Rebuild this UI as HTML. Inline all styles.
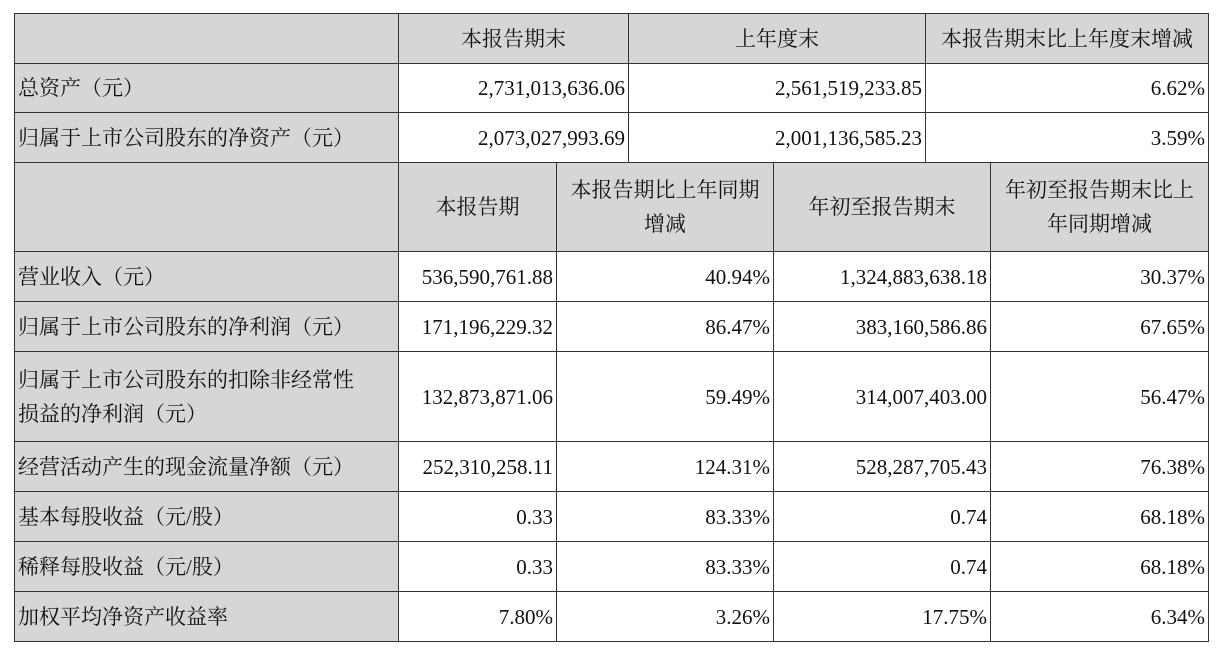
<!DOCTYPE html>
<html><head><meta charset="utf-8"><style>
html,body{margin:0;padding:0;background:#fff;width:1217px;height:652px;overflow:hidden}
.c{position:absolute;box-sizing:border-box;border:1.5px solid #333;font-family:"Liberation Serif","Noto Serif CJK SC",serif;font-size:21px;color:#111;display:flex;align-items:center;padding:0 3px;line-height:34px}
.g{background:#d6d6d6}
.r{justify-content:flex-end}
.m{justify-content:center;text-align:center}
.l{justify-content:flex-start}
</style></head><body>
<div id="t"></div>
<script>
var H=[[13,63],[63,112],[112,162]];
var top3=[398,628,925,1208];
var rows=[
["","本报告期末","上年度末","本报告期末比上年度末增减",1],
["总资产（元）","2,731,013,636.06","2,561,519,233.85","6.62%",0],
["归属于上市公司股东的净资产（元）","2,073,027,993.69","2,001,136,585.23","3.59%",0]];
var out="";
function cell(x1,y1,x2,y2,txt,cls){out+='<div class="c '+cls+'" style="left:'+x1+'px;top:'+y1+'px;width:'+(x2-x1+1)+'px;height:'+(y2-y1+1)+'px">'+txt+'</div>';}
for(var i=0;i<3;i++){var r=rows[i],h=H[i];var hd=r[4];
cell(14,h[0],398,h[1],r[0],'g l');
for(var j=0;j<3;j++)cell(top3[j],h[0],top3[j+1],h[1],r[j+1],hd?'g m':'r');}
var X=[14,398,556,773,990,1208];
var H2=[[162,251],[251,301],[301,351],[351,441],[441,491],[491,541],[541,591],[591,641]];
var R2=[
["","本报告期","本报告期比上年同期<br>增减","年初至报告期末","年初至报告期末比上<br>年同期增减",1],
["营业收入（元）","536,590,761.88","40.94%","1,324,883,638.18","30.37%"],
["归属于上市公司股东的净利润（元）","171,196,229.32","86.47%","383,160,586.86","67.65%"],
["归属于上市公司股东的扣除非经常性<br>损益的净利润（元）","132,873,871.06","59.49%","314,007,403.00","56.47%"],
["经营活动产生的现金流量净额（元）","252,310,258.11","124.31%","528,287,705.43","76.38%"],
["基本每股收益（元/股）","0.33","83.33%","0.74","68.18%"],
["稀释每股收益（元/股）","0.33","83.33%","0.74","68.18%"],
["加权平均净资产收益率","7.80%","3.26%","17.75%","6.34%"]];
for(var i=0;i<R2.length;i++){var r=R2[i],h=H2[i],hd=r[5];
cell(14,h[0],398,h[1],r[0],'g l');
for(var j=0;j<4;j++)cell(X[j+1],h[0],X[j+2],h[1],r[j+1],hd?'g m':'r');}
document.getElementById('t').innerHTML=out;
</script>
</body></html>
